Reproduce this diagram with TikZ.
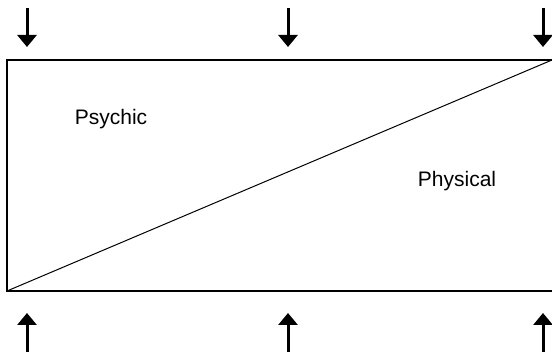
\documentclass[tikz,border=0pt]{standalone}
\usepackage{fontspec}
\setmainfont{Liberation Sans}
\usetikzlibrary{arrows.meta}
\tikzset{
  bigarrow/.style={line width=3pt,-{Triangle[width=19pt,length=12pt]}},
  frame/.style={line width=1.4pt},
  diag/.style={line width=1pt},
  lbl/.style={font=\fontsize{21}{25}\selectfont,inner sep=0pt}
}
\begin{document}
\begin{tikzpicture}[x=1pt,y=-1pt]
\useasboundingbox (0,0) rectangle (552,355);
% frame corners
\coordinate (tl) at (7,60);
\coordinate (tr) at (556,60);
\coordinate (bl) at (7,291);
\coordinate (br) at (556,291);
\coordinate (dend) at (552,60);
\draw[frame] (tr) -- (tl) -- (bl) -- (br);
\draw[diag] (bl) -- (dend);
% labels
\node[lbl] (psychic) at (111,119) {Psychic};
\node[lbl] (physical) at (457,181) {Physical};
% arrows
\foreach \n/\x in {a/27,b/288,c/543}{
  \coordinate (top\n s) at (\x,8);
  \coordinate (top\n e) at (\x,47);
  \draw[bigarrow] (top\n s) -- (top\n e);
  \coordinate (bot\n s) at (\x,352);
  \coordinate (bot\n e) at (\x,313);
  \draw[bigarrow] (bot\n s) -- (bot\n e);
}
\end{tikzpicture}
\end{document}
